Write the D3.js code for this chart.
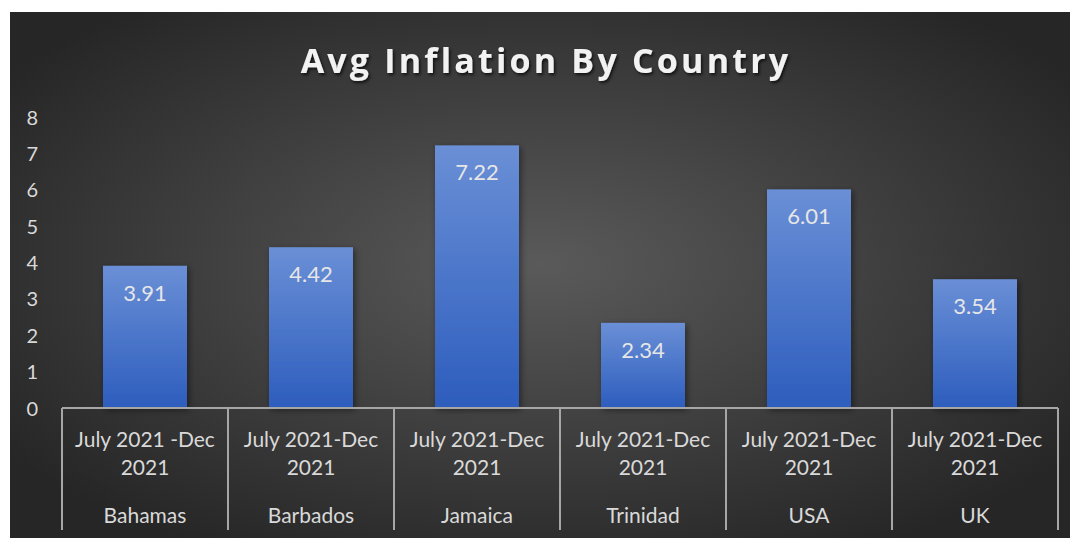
<!DOCTYPE html>
<html>
<head>
<meta charset="utf-8">
<script src="https://cdn.jsdelivr.net/npm/d3@7"></script>
<style>
  body { margin: 0; background: #fff; }
  svg { display: block; }
  .y-axis text { fill: #d9d9d9; font-family: Lato, "Open Sans", sans-serif; font-size: 20px; }
  .cat-label { fill: #d9d9d9; font-family: Lato, "Open Sans", sans-serif; font-size: 21px; text-anchor: middle; }
  .bar-label { fill: #e6e6e6; font-family: Lato, "Open Sans", sans-serif; font-size: 22px; text-anchor: middle; }
  .plot-title { fill: #f2f2f2; font-family: "Open Sans", Lato, sans-serif; font-size: 34px; font-weight: bold; text-anchor: middle; letter-spacing: 3.2px; }
</style>
</head>
<body>
<div id="chart"></div>
<script>
// data
const countries = ["Bahamas", "Barbados", "Jamaica", "Trinidad", "USA", "UK"];
const periods = [
  ["July 2021 -Dec", "2021"],
  ["July 2021-Dec", "2021"],
  ["July 2021-Dec", "2021"],
  ["July 2021-Dec", "2021"],
  ["July 2021-Dec", "2021"],
  ["July 2021-Dec", "2021"]
];
const values = [3.91, 4.42, 7.22, 2.34, 6.01, 3.54];
const yTicks = [0, 1, 2, 3, 4, 5, 6, 7, 8];

const W = 1070, H = 538;
const margin = {top: 117, right: 12, bottom: 130, left: 62},
    width = 1058 - margin.left,
    height = 408 - margin.top;

const svgRoot = d3.select("#chart")
  .append("svg")
    .attr("width", W)
    .attr("height", H);

const defs = svgRoot.append("defs");

// background gradient
const bg = defs.append("radialGradient")
    .attr("id", "bg")
    .attr("cx", "50%").attr("cy", "48%")
    .attr("r", "62%");
bg.append("stop").attr("offset", "0%").attr("stop-color", "#5a5a5a");
bg.append("stop").attr("offset", "100%").attr("stop-color", "#262626");

// bar gradient
const barGrad = defs.append("linearGradient")
    .attr("id", "barGrad")
    .attr("x1", 0).attr("y1", 0).attr("x2", 0).attr("y2", 1);
barGrad.append("stop").attr("offset", "0%").attr("stop-color", "#6a8fd6");
barGrad.append("stop").attr("offset", "100%").attr("stop-color", "#2d5dbd");

const shadow = defs.append("filter")
    .attr("id", "shadow")
    .attr("x", "-20%").attr("y", "-20%").attr("width", "140%").attr("height", "140%");
shadow.append("feDropShadow")
    .attr("dx", 2).attr("dy", 2).attr("stdDeviation", 3)
    .attr("flood-color", "#000").attr("flood-opacity", 0.45);

const titleShadow = defs.append("filter").attr("id", "tshadow");
titleShadow.append("feDropShadow")
    .attr("dx", 1.5).attr("dy", 2).attr("stdDeviation", 1.5)
    .attr("flood-color", "#000").attr("flood-opacity", 0.7);

svgRoot.append("rect")
    .attr("x", 10).attr("y", 12)
    .attr("width", W - 10).attr("height", H - 12)
    .attr("fill", "url(#bg)");

const svg = svgRoot.append("g")
    .attr("transform", `translate(${margin.left}, ${margin.top})`);

// scales
const x = d3.scaleBand()
    .domain(countries)
    .range([0, width])
    .padding(0);

const y = d3.scaleLinear()
    .domain([0, 8])
    .range([height, 0]);

// Y axis
svg.append("g")
    .attr("class", "y-axis")
    .attr("transform", "translate(-24, 0)")
    .call(d3.axisLeft(y)
      .tickValues(yTicks)
      .tickSize(0)
      .tickPadding(0))
    .call(g => g.select(".domain").remove())
    .selectAll("text")
      .attr("dy", "0.35em");

// Bars
const barW = x.bandwidth() * 0.506;
svg.selectAll("rect.bar")
  .data(values)
  .join("rect")
    .attr("class", "bar")
    .attr("x", (d, i) => x(countries[i]) + (x.bandwidth() - barW) / 2)
    .attr("y", d => y(d))
    .attr("width", barW)
    .attr("height", d => height - y(d))
    .attr("fill", "url(#barGrad)")
    .attr("filter", "url(#shadow)");

// bar labels
svg.selectAll("text.bar-label")
  .data(values)
  .join("text")
    .attr("class", "bar-label")
    .attr("x", (d, i) => x(countries[i]) + x.bandwidth() / 2)
    .attr("y", d => y(d) + 35)
    .text(d => d.toFixed(2));

// category axis
const axisCol = "#a6a6a6";
svg.append("line")
    .attr("x1", 0).attr("x2", width)
    .attr("y1", height).attr("y2", height)
    .attr("stroke", axisCol).attr("stroke-width", 2);

const seps = countries.map(c => x(c)).concat([width]);
svg.selectAll("line.sep")
  .data(seps)
  .join("line")
    .attr("class", "sep")
    .attr("x1", d => d).attr("x2", d => d)
    .attr("y1", height).attr("y2", height + 122)
    .attr("stroke", axisCol).attr("stroke-width", 2);

countries.forEach((c, i) => {
  const cx = x(c) + x.bandwidth() / 2;
  periods[i].forEach((line, j) => {
    svg.append("text")
      .attr("class", "cat-label")
      .attr("x", cx)
      .attr("y", height + 39 + j * 28)
      .text(line);
  });
  svg.append("text")
    .attr("class", "cat-label")
    .attr("x", cx)
    .attr("y", height + 115)
    .text(c);
});

// title
svgRoot.append("text")
    .attr("class", "plot-title")
    .attr("x", 546)
    .attr("y", 73)
    .attr("filter", "url(#tshadow)")
    .text("Avg Inflation By Country");
</script>
</body>
</html>
